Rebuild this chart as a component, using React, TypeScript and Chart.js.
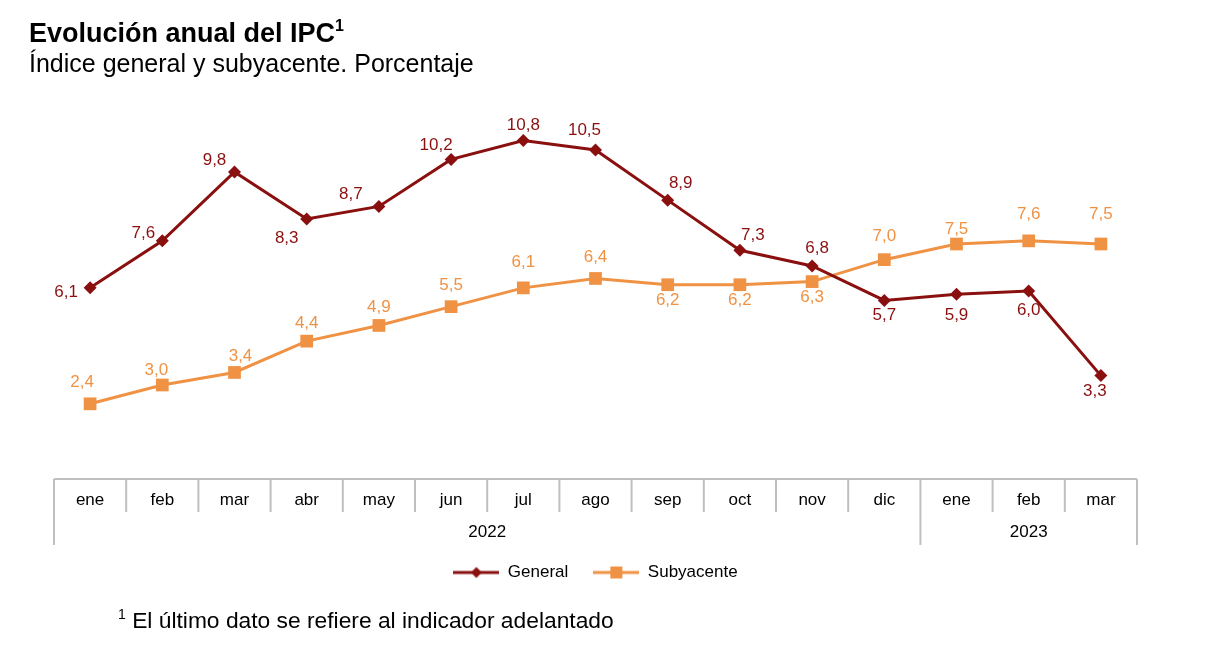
import React, { useEffect, useRef } from 'react';
import { Chart, registerables } from 'chart.js';

Chart.register(...registerables);

// ---- Data ----
const months = ['ene', 'feb', 'mar', 'abr', 'may', 'jun', 'jul', 'ago', 'sep', 'oct', 'nov', 'dic', 'ene', 'feb', 'mar'];
const yearLabels = ['2022', '2023'];
const yearStart = [0, 12];
const yearEnd = [11, 14];
const general = [6.1, 7.6, 9.8, 8.3, 8.7, 10.2, 10.8, 10.5, 8.9, 7.3, 6.8, 5.7, 5.9, 6.0, 3.3];
const subyacente = [2.4, 3.0, 3.4, 4.4, 4.9, 5.5, 6.1, 6.4, 6.2, 6.2, 6.3, 7.0, 7.5, 7.6, 7.5];

// label placement (text centre offset from the point)
const generalLabelOffsets = [
  [-24, 4], [-19, -8], [-20, -12], [-20, 19], [-28, -12], [-15, -14], [0, -15], [-11, -20],
  [13, -17], [13, -15], [5, -18], [0, 15], [0, 21], [0, 19], [-6, 16],
];
const subyacenteLabelOffsets = [
  [-8, -21], [-6, -15], [6, -16], [0, -18], [0, -18], [0, -21], [0, -26], [0, -21],
  [0, 16], [0, 16], [0, 16], [0, -23], [0, -15], [0, -27], [0, -30],
];

const GENERAL_COLOR = '#8A1010';
const SUBY_COLOR = '#F09244';
const FONT = "'Liberation Sans', Arial, sans-serif";

const fmt = (v: number) => v.toFixed(1).replace('.', ',');

function makeIcon(color: string, style: 'diamond' | 'square'): HTMLCanvasElement {
  const c = document.createElement('canvas');
  c.width = 46;
  c.height = 14;
  const ctx = c.getContext('2d')!;
  ctx.strokeStyle = color;
  ctx.lineWidth = 3;
  ctx.beginPath();
  ctx.moveTo(0, 7);
  ctx.lineTo(46, 7);
  ctx.stroke();
  ctx.fillStyle = color;
  if (style === 'diamond') {
    ctx.beginPath();
    ctx.moveTo(23, 1.5);
    ctx.lineTo(28.5, 7);
    ctx.lineTo(23, 12.5);
    ctx.lineTo(17.5, 7);
    ctx.closePath();
    ctx.fill();
  } else {
    ctx.fillRect(17, 1, 12, 12);
  }
  return c;
}

const dataLabelsPlugin = {
  id: 'dataLabels',
  afterDatasetsDraw(chart: any) {
    const ctx = chart.ctx;
    ctx.save();
    ctx.font = `17px ${FONT}`;
    ctx.textAlign = 'center';
    ctx.textBaseline = 'middle';
    const sets = [
      { data: general, offs: generalLabelOffsets, color: GENERAL_COLOR },
      { data: subyacente, offs: subyacenteLabelOffsets, color: SUBY_COLOR },
    ];
    sets.forEach((s, di) => {
      const meta = chart.getDatasetMeta(di);
      ctx.fillStyle = s.color;
      meta.data.forEach((pt: any, j: number) => {
        ctx.fillText(fmt(s.data[j]), pt.x + s.offs[j][0], pt.y + s.offs[j][1]);
      });
    });
    ctx.restore();
  },
};

const axisPlugin = {
  id: 'groupAxis',
  afterDraw(chart: any) {
    const ctx = chart.ctx;
    const xs = chart.scales.x;
    const area = chart.chartArea;
    const step = xs.getPixelForValue(1) - xs.getPixelForValue(0);
    const bottom = area.bottom;
    const row1 = bottom + 33;
    const row2 = bottom + 66;
    ctx.save();
    ctx.strokeStyle = '#BFBFBF';
    ctx.lineWidth = 2;
    ctx.beginPath();
    ctx.moveTo(area.left, bottom);
    ctx.lineTo(area.right, bottom);
    ctx.stroke();
    const full = new Set<number>([...yearStart, yearEnd[yearEnd.length - 1] + 1]);
    for (let i = 0; i <= months.length; i++) {
      const x = xs.getPixelForValue(0) - step / 2 + i * step;
      ctx.beginPath();
      ctx.moveTo(x, bottom);
      ctx.lineTo(x, full.has(i) ? row2 : row1);
      ctx.stroke();
    }
    ctx.fillStyle = '#000';
    ctx.font = `17px ${FONT}`;
    ctx.textAlign = 'center';
    ctx.textBaseline = 'middle';
    months.forEach((m, i) => {
      ctx.fillText(m, xs.getPixelForValue(i), bottom + 21);
    });
    yearLabels.forEach((y, k) => {
      const x0 = xs.getPixelForValue(yearStart[k]) - step / 2;
      const x1 = xs.getPixelForValue(yearEnd[k]) + step / 2;
      ctx.fillText(y, (x0 + x1) / 2, bottom + 53);
    });
    ctx.restore();
  },
};

export default function App() {
  const ref = useRef<HTMLCanvasElement>(null);
  useEffect(() => {
    if (!ref.current) return;
    const icons = [makeIcon(GENERAL_COLOR, 'diamond'), makeIcon(SUBY_COLOR, 'square')];
    const chart = new Chart(ref.current, {
      type: 'line',
      data: {
        labels: months,
        datasets: [
          {
            label: 'General',
            data: general,
            borderColor: GENERAL_COLOR,
            backgroundColor: GENERAL_COLOR,
            borderWidth: 3,
            pointStyle: 'rectRot',
            pointRadius: 6.5,
            pointBorderWidth: 0,
            tension: 0,
          },
          {
            label: 'Subyacente',
            data: subyacente,
            borderColor: SUBY_COLOR,
            backgroundColor: SUBY_COLOR,
            borderWidth: 3,
            pointStyle: 'rect',
            pointRadius: 9,
            pointBorderWidth: 0,
            tension: 0,
          },
        ],
      },
      options: {
        animation: false,
        responsive: false,
        events: [],
        layout: { padding: { top: 103, left: 54, right: 90, bottom: 70 } },
        scales: {
          x: {
            offset: true,
            grid: { display: false },
            border: { display: false },
            ticks: { display: false },
            afterFit: (s: any) => {
              s.height = 60;
            },
          },
          y: { display: false, min: 0, max: 12 },
        },
        plugins: {
          tooltip: { enabled: false },
          legend: {
            position: 'bottom',
            labels: {
              usePointStyle: true,
              pointStyleWidth: 46,
              boxHeight: 14,
              padding: 25,
              color: '#000',
              font: { size: 17, family: FONT },
              generateLabels: (c: any) =>
                c.data.datasets.map((ds: any, i: number) => ({
                  text: ds.label,
                  pointStyle: icons[i],
                  fillStyle: ds.borderColor,
                  strokeStyle: ds.borderColor,
                  lineWidth: 0,
                  hidden: false,
                  datasetIndex: i,
                  fontColor: '#000',
                })),
            },
          },
        },
      },
      plugins: [dataLabelsPlugin, axisPlugin],
    } as any);
    return () => chart.destroy();
  }, []);

  return (
    <div style={{ position: 'fixed', left: 0, top: 0, width: 1227, height: 661, background: '#fff', fontFamily: FONT, color: '#000' }}>
      <canvas ref={ref} width={1227} height={661} style={{ position: 'absolute', left: 0, top: 0, display: 'block' }} />
      <div style={{ position: 'absolute', left: 29, top: 20, fontSize: 27, fontWeight: 'bold', lineHeight: 1, whiteSpace: 'nowrap' }}>
        Evolución anual del IPC
        <span style={{ fontSize: 16, position: 'relative', top: -11 }}>1</span>
      </div>
      <div style={{ position: 'absolute', left: 29, top: 51, fontSize: 25, lineHeight: 1, whiteSpace: 'nowrap' }}>
        Índice general y subyacente. Porcentaje
      </div>
      <div style={{ position: 'absolute', left: 118, top: 609, fontSize: 22.8, lineHeight: 1, whiteSpace: 'nowrap' }}>
        <span style={{ fontSize: 14, position: 'relative', top: -9 }}>1</span> El último dato se refiere al indicador adelantado
      </div>
    </div>
  );
}
